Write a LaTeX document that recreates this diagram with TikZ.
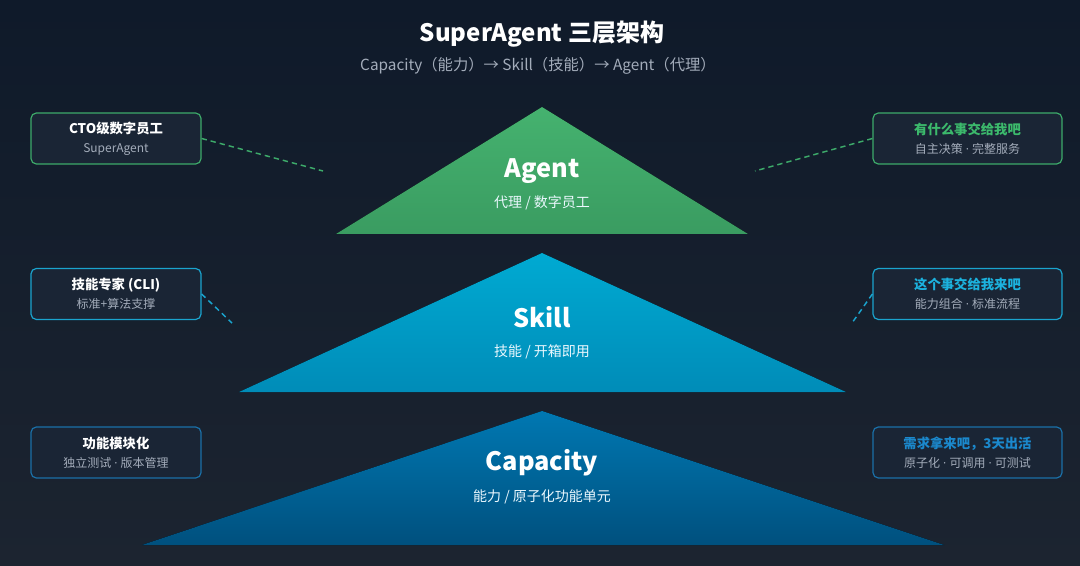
\documentclass[tikz,border=0pt]{standalone}
\usepackage{fontspec}
\setmainfont{Noto Sans CJK SC}
\newfontfamily\dotfont{Open Sans}
\usetikzlibrary{positioning}
\definecolor{bgtop}{HTML}{0F1A2A}
\definecolor{bgbot}{HTML}{1C2430}
\definecolor{boxfill}{HTML}{1A2535}
\definecolor{agentgreen}{HTML}{45B26F}
\definecolor{agentdark}{HTML}{3A9C61}
\definecolor{skilltop}{HTML}{00AAD2}
\definecolor{skillbot}{HTML}{008CB8}
\definecolor{captop}{HTML}{0078B2}
\definecolor{capbot}{HTML}{00507E}
\definecolor{linkgreen}{HTML}{3DAA6A}
\definecolor{linkcyan}{HTML}{1AA4CE}
\definecolor{linkblue}{HTML}{1A70A8}
\definecolor{titlegreen}{HTML}{3CBA6C}
\definecolor{titlecyan}{HTML}{1CB2DE}
\definecolor{titleblue}{HTML}{1B88CC}
\definecolor{subgray}{HTML}{A3ACBA}
\newcommand{\notetitle}{\bfseries\fontsize{10}{15}\selectfont}
\newcommand{\notesub}{\fontsize{9}{12}\selectfont\color{subgray}}
\newcommand{\mdot}{{\dotfont\ ·\ }}
\tikzset{
  tierlabel/.style={text=white, font=\bfseries\fontsize{19}{22}\selectfont},
  tiersub/.style={text=white!92!cyan, font=\fontsize{10.5}{12}\selectfont},
  notebox/.style={
    rectangle, rounded corners=4pt, draw=#1, fill=boxfill, line width=0.9pt,
    minimum width=127.5pt, minimum height=38.25pt,
    align=center, inner sep=2pt, text=white
  },
  notebox/.default=linkgreen,
  widebox/.style={notebox=#1, minimum width=141.75pt},
  linkline/.style={dash pattern=on 4pt off 3pt, line width=1.1pt, color=#1},
  linkline/.default=linkgreen,
}

\begin{document}
\begin{tikzpicture}[x=0.75pt, y=-0.75pt]
  % background
  \fill[top color=bgtop, bottom color=bgbot] (0,0) rectangle (1080,566);
  \useasboundingbox (0,0) rectangle (1080,566);

  % title
  \node[text=white, font=\bfseries\fontsize{18}{22}\selectfont] (title) at (542,34) {SuperAgent 三层架构};
  \node[text=subgray, font=\fontsize{11.5}{14}\selectfont] (subtitle) at (538,66) {Capacity（能力）→ Skill（技能）→ Agent（代理）};

  % tiers
  \coordinate (agenttop) at (542,107);
  \coordinate (skilltop) at (542,253);
  \coordinate (captop) at (542,411);
  \fill[top color=agentgreen, bottom color=agentdark] (agenttop) -- (748,234) -- (336,234) -- cycle;
  \fill[top color=skilltop, bottom color=skillbot] (skilltop) -- (846,392) -- (239,392) -- cycle;
  \fill[top color=captop, bottom color=capbot] (captop) -- (944,545) -- (142,545) -- cycle;

  \node[tierlabel] (agent) at (542,171) {Agent};
  \node[tiersub] (agentsub) at (542,203) {代理 / 数字员工};
  \node[tierlabel] (skill) at (542,317) {Skill};
  \node[tiersub] (skillsub) at (542,352) {技能 / 开箱即用};
  \node[tierlabel] (capacity) at (542,463) {Capacity};
  \node[tiersub] (capsub) at (542,497) {能力 / 原子化功能单元};

  % left notes
  \node[notebox=linkgreen] (cto) at (116,138.5) {{\notetitle CTO级数字员工}\\[2pt]{\notesub SuperAgent}};
  \node[notebox=linkcyan] (expert) at (116,294) {{\notetitle 技能专家 (CLI)}\\[2pt]{\notesub 标准+算法支撑}};
  \node[notebox=linkblue] (module) at (116,452.5) {{\notetitle 功能模块化}\\[2pt]{\notesub 独立测试\mdot 版本管理}};

  % right notes
  \node[widebox=linkgreen] (askme) at (967.5,138.5) {{\notetitle\color{titlegreen} 有什么事交给我吧}\\[2pt]{\notesub 自主决策\mdot 完整服务}};
  \node[widebox=linkcyan] (giveme) at (967.5,294) {{\notetitle\color{titlecyan} 这个事交给我来吧}\\[2pt]{\notesub 能力组合\mdot 标准流程}};
  \node[widebox=linkblue] (threedays) at (967.5,452.5) {{\notetitle\color{titleblue} 需求拿来吧，3天出活}\\[2pt]{\notesub 原子化\mdot 可调用\mdot 可测试}};

  % dashed links
  \coordinate (ctoend) at (323,171);
  \coordinate (expertend) at (232,323);
  \coordinate (askend) at (755,171);
  \coordinate (giveend) at (852,323);
  \draw[linkline=linkgreen] (cto.east) -- (ctoend);
  \draw[linkline=linkcyan] (expert.east) -- (expertend);
  \draw[linkline=linkgreen] (askme.west) -- (askend);
  \draw[linkline=linkcyan] (giveme.west) -- (giveend);
\end{tikzpicture}
\end{document}
